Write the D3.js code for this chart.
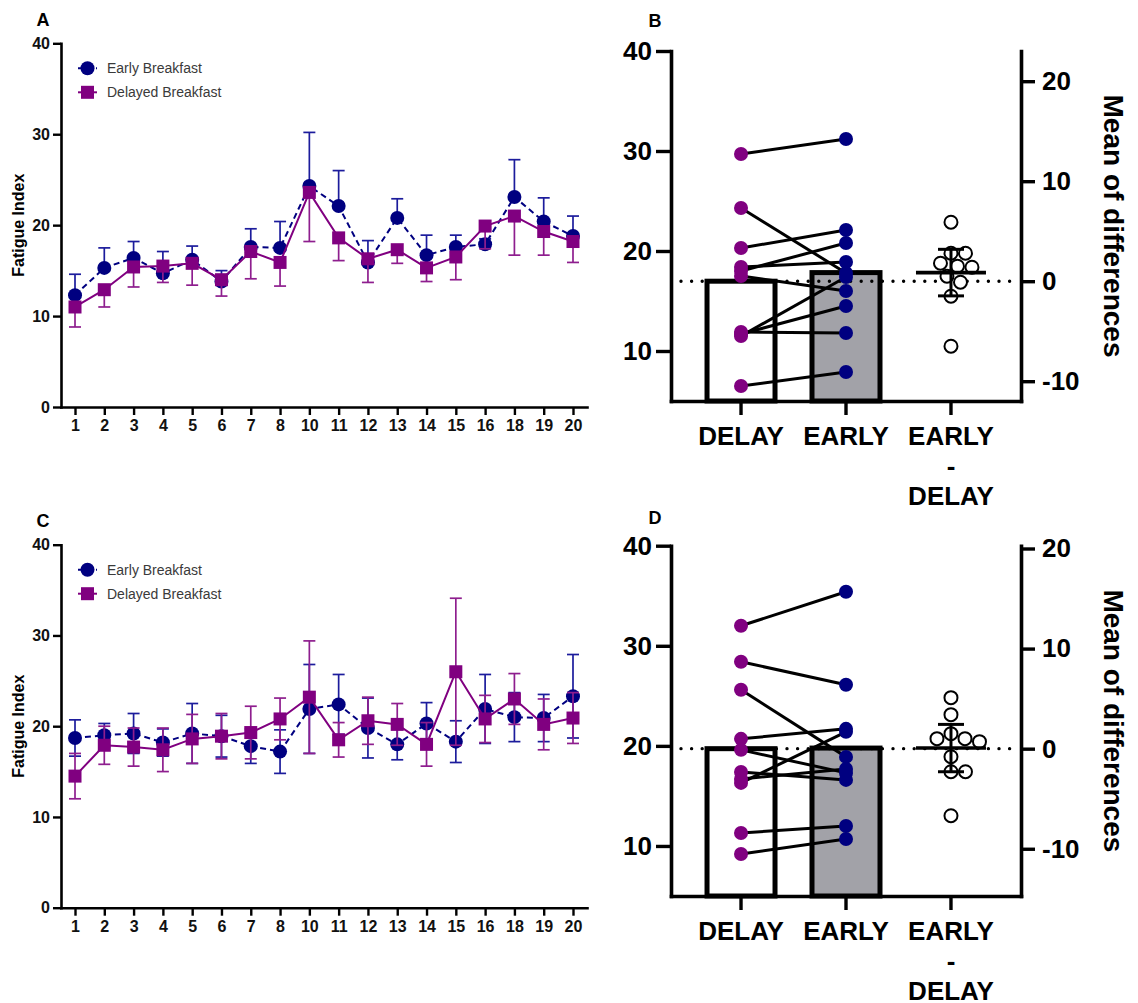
<!DOCTYPE html>
<html><head><meta charset="utf-8">
<script src="https://cdn.jsdelivr.net/npm/d3@7"></script>
<style>
body{margin:0;background:#fff}
svg{display:block}
text{font-family:"Liberation Sans",Arial,Helvetica,sans-serif}
</style>
</head><body>
<svg id="chart" width="1138" height="1003"></svg>
<script>
// ---------- DATA ----------
const days = ["1","2","3","4","5","6","7","8","10","11","12","13","14","15","16","18","19","20"];
const yTicksLine = [0, 10, 20, 30, 40];

// Panel A
const aEarly       = [12.3, 15.3, 16.4, 14.7, 16.2, 13.8, 17.6, 17.5, 24.3, 22.1, 15.9, 20.8, 16.7, 17.6, 17.9, 23.1, 20.4, 18.8];
const aEarlyErr    = [2.3, 2.2, 1.8, 2.4, 1.5, 1.2, 2.0, 2.9, 5.9, 3.9, 2.4, 2.1, 2.2, 1.3, 0.6, 4.1, 2.6, 2.2];
const aDelayed     = [11.0, 12.9, 15.4, 15.5, 15.8, 14.0, 17.1, 15.9, 23.6, 18.6, 16.3, 17.3, 15.3, 16.5, 19.9, 21.0, 19.3, 18.2];
const aDelayedErr  = [2.2, 1.9, 2.2, 1.8, 2.4, 1.8, 3.0, 2.6, 5.4, 2.5, 2.6, 1.5, 1.5, 2.5, 2.5, 4.3, 2.6, 2.3];

// Panel C
const cEarly       = [18.7, 19.0, 19.2, 18.2, 19.2, 18.9, 17.8, 17.2, 21.9, 22.4, 19.8, 18.0, 20.3, 18.3, 21.9, 21.0, 20.9, 23.3];
const cEarlyErr    = [2.0, 1.3, 2.2, 1.5, 3.3, 2.3, 1.9, 2.4, 4.9, 3.3, 3.3, 1.7, 2.3, 2.3, 3.8, 2.7, 2.6, 4.6];
const cDelayed     = [14.5, 17.9, 17.7, 17.4, 18.6, 18.9, 19.3, 20.8, 23.2, 18.5, 20.6, 20.2, 18.0, 26.0, 20.8, 23.0, 20.2, 20.9];
const cDelayedErr  = [2.5, 2.1, 2.1, 2.4, 2.7, 2.5, 2.9, 2.3, 6.2, 1.9, 2.6, 2.3, 2.4, 8.1, 2.6, 2.8, 2.8, 2.8];

const legendLabels = ["Early Breakfast", "Delayed Breakfast"];

// Panels B and D (paired subjects)
const pairCats   = ["DELAY", "EARLY", "EARLY-DELAY"];
const pairLabels = [["DELAY"], ["EARLY"], ["EARLY", "-", "DELAY"]];
const leftTicks  = [10, 20, 30, 40];
const rightTicks = [-10, 0, 10, 20];

const bDelay = [29.7, 24.3, 20.3, 18.4, 18.0, 17.5, 11.9, 11.7, 11.5, 6.5];
const bEarly = [31.2, 17.8, 22.1, 18.9, 20.8, 16.0, 11.8, 14.5, 17.4, 7.9];

const dDelay = [32.0, 28.4, 25.6, 20.7, 19.6, 17.4, 16.7, 16.3, 11.3, 9.2];
const dEarly = [35.4, 26.1, 18.9, 21.7, 17.3, 16.6, 17.7, 21.4, 12.0, 10.7];

// ---------- STYLE ----------
const EARLY_C = "#000080", EARLY_ERR_C = "#1c1c9c";
const DELAY_C = "#800080", DELAY_ERR_C = "#8e1e8e";
const svg = d3.select("#chart");
svg.append("rect").attr("width", 1138).attr("height", 1003).attr("fill", "#fff");

function panelLetter(t, x, y) {
  svg.append("text").attr("x", x).attr("y", y).attr("text-anchor", "middle")
    .attr("dominant-baseline", "central").attr("font-weight", "bold").attr("font-size", 18).text(t);
}

// ---------- LINE PANELS (A, C) ----------
function linePanel(cfg) {
  const g = svg.append("g");
  const x = d3.scalePoint().domain(days).range([61, 587]).padding(0.478);
  const y = d3.scaleLinear().domain([0, 40]).range([cfg.y0, cfg.y40]);

  const ya = g.append("g").attr("transform", "translate(61,0)")
    .call(d3.axisLeft(y).tickValues(yTicksLine).tickSize(8).tickSizeOuter(0).tickPadding(3));
  const xa = g.append("g").attr("transform", `translate(0,${cfg.y0})`)
    .call(d3.axisBottom(x).tickSize(8).tickSizeOuter(0).tickPadding(5));
  [ya, xa].forEach(a => {
    a.select(".domain").attr("stroke", "#000").attr("stroke-width", 2.6).attr("stroke-linecap", "square");
    a.selectAll(".tick line").attr("stroke", "#000").attr("stroke-width", 2.4);
    a.selectAll("text").attr("font-size", 16).attr("font-weight", "bold").attr("fill", "#111")
      .attr("font-family", '"Liberation Sans",Arial,sans-serif');
  });

  g.append("text").attr("transform", `translate(18,${(cfg.y0 + cfg.y40) / 2}) rotate(-90)`)
    .attr("text-anchor", "middle").attr("dominant-baseline", "central")
    .attr("font-weight", "bold").attr("font-size", 16).text("Fatigue Index");

  function errBars(vals, errs, color, dirUp, dirDown) {
    const eg = g.append("g").attr("stroke", color).attr("stroke-width", 1.7).attr("fill", "none");
    vals.forEach((v, i) => {
      const cx = x(days[i]);
      const top = dirUp ? v + errs[i] : v;
      const bot = dirDown ? v - errs[i] : v;
      eg.append("line").attr("x1", cx).attr("x2", cx).attr("y1", y(top)).attr("y2", y(bot));
      if (dirUp) eg.append("line").attr("x1", cx - 6).attr("x2", cx + 6).attr("y1", y(top)).attr("y2", y(top));
      if (dirDown) eg.append("line").attr("x1", cx - 6).attr("x2", cx + 6).attr("y1", y(bot)).attr("y2", y(bot));
    });
  }
  const line = d3.line().x((d, i) => x(days[i])).y(d => y(d));

  // Early series
  g.append("path").datum(cfg.early).attr("d", line).attr("fill", "none")
    .attr("stroke", EARLY_C).attr("stroke-width", 2).attr("stroke-dasharray", "6,4");
  errBars(cfg.early, cfg.earlyErr, EARLY_ERR_C, cfg.earlyUp, cfg.earlyDown);
  g.append("g").selectAll("circle").data(cfg.early).join("circle")
    .attr("cx", (d, i) => x(days[i])).attr("cy", d => y(d)).attr("r", 7).attr("fill", EARLY_C);

  // Delayed series
  g.append("path").datum(cfg.delayed).attr("d", line).attr("fill", "none")
    .attr("stroke", DELAY_C).attr("stroke-width", 2);
  errBars(cfg.delayed, cfg.delayedErr, DELAY_ERR_C, cfg.delayUp, cfg.delayDown);
  g.append("g").selectAll("rect").data(cfg.delayed).join("rect")
    .attr("x", (d, i) => x(days[i]) - 6.5).attr("y", d => y(d) - 6.5)
    .attr("width", 13).attr("height", 13).attr("fill", DELAY_C);

  // legend
  const ly = [cfg.y40 + 25, cfg.y40 + 49];
  const lg = g.append("g");
  lg.append("line").attr("x1", 78).attr("x2", 97).attr("y1", ly[0]).attr("y2", ly[0])
    .attr("stroke", EARLY_C).attr("stroke-width", 2).attr("stroke-dasharray", "4,2");
  lg.append("circle").attr("cx", 87.5).attr("cy", ly[0]).attr("r", 7).attr("fill", EARLY_C);
  lg.append("line").attr("x1", 78).attr("x2", 97).attr("y1", ly[1]).attr("y2", ly[1])
    .attr("stroke", DELAY_C).attr("stroke-width", 2);
  lg.append("rect").attr("x", 81).attr("y", ly[1] - 6.5).attr("width", 13).attr("height", 13).attr("fill", DELAY_C);
  legendLabels.forEach((t, i) => {
    lg.append("text").attr("x", 107).attr("y", ly[i]).attr("dominant-baseline", "central")
      .attr("font-size", 14).attr("fill", "#3a3a3a").text(t);
  });
}

// ---------- PAIRED PANELS (B, D) ----------
function swarmOffsets(vals, yfun, r) {
  const order = vals.map((v, i) => i).sort((a, b) => vals[b] - vals[a]);
  const placed = [], off = new Array(vals.length).fill(0);
  order.forEach(i => {
    const yy = yfun(vals[i]);
    for (let k = 0; k < 400; k++) {
      const cand = (k % 2 ? 1 : -1) * Math.ceil(k / 2) * 0.5;
      if (placed.every(p => Math.hypot(p.x - cand, p.y - yy) >= 2 * r + 1.5)) {
        off[i] = cand; placed.push({x: cand, y: yy}); break;
      }
    }
  });
  return off;
}

function pairedPanel(cfg) {
  const g = svg.append("g");
  const x = d3.scaleBand().domain(pairCats).range([671, 1021]).paddingInner(0).paddingOuter(0.167);
  const cx = c => x(c) + x.bandwidth() / 2;
  const y = d3.scaleLinear().domain([5, 40]).range([cfg.y5, cfg.y40]);
  const mD = d3.mean(cfg.delay), mE = d3.mean(cfg.early);
  const yR = d3.scaleLinear().domain([5 - mD, 40 - mD]).range([cfg.y5, cfg.y40]);
  const diffs = cfg.early.map((v, i) => v - cfg.delay[i]);
  const mDiff = d3.mean(diffs);
  const ci = 2.262 * d3.deviation(diffs) / Math.sqrt(diffs.length);
  const barW = 68;

  // bars
  [["DELAY", mD, "#ffffff"], ["EARLY", mE, "#a2a2a8"]].forEach(([c, m, f]) => {
    g.append("rect").attr("x", cx(c) - barW / 2).attr("y", y(m)).attr("width", barW)
      .attr("height", cfg.y5 - y(m)).attr("fill", f).attr("stroke", "#000").attr("stroke-width", 5);
  });

  // dotted reference line at DELAY mean (right-axis zero)
  g.append("line").attr("x1", 681).attr("x2", 1012).attr("y1", yR(0)).attr("y2", yR(0))
    .attr("stroke", "#000").attr("stroke-width", 3.4).attr("stroke-linecap", "round")
    .attr("stroke-dasharray", "0,10.6");

  // pair lines
  cfg.delay.forEach((v, i) => {
    g.append("line").attr("x1", cx("DELAY")).attr("y1", y(v)).attr("x2", cx("EARLY")).attr("y2", y(cfg.early[i]))
      .attr("stroke", "#000").attr("stroke-width", 3);
  });
  g.append("g").selectAll("circle").data(cfg.delay).join("circle")
    .attr("cx", cx("DELAY")).attr("cy", d => y(d)).attr("r", 7).attr("fill", DELAY_C);
  g.append("g").selectAll("circle").data(cfg.early).join("circle")
    .attr("cx", cx("EARLY")).attr("cy", d => y(d)).attr("r", 7).attr("fill", EARLY_C);

  // differences (beeswarm)
  const r = 6.5;
  const off = swarmOffsets(diffs, yR, r);
  g.append("g").selectAll("circle").data(diffs).join("circle")
    .attr("cx", (d, i) => cx("EARLY-DELAY") + off[i]).attr("cy", d => yR(d)).attr("r", r)
    .attr("fill", "#fff").attr("stroke", "#000").attr("stroke-width", 2);
  const c3 = cx("EARLY-DELAY");
  const eg = g.append("g").attr("stroke", "#000").attr("stroke-width", 3);
  eg.append("line").attr("x1", c3).attr("x2", c3).attr("y1", yR(mDiff + ci)).attr("y2", yR(mDiff - ci));
  eg.append("line").attr("x1", c3 - 13).attr("x2", c3 + 13).attr("y1", yR(mDiff + ci)).attr("y2", yR(mDiff + ci));
  eg.append("line").attr("x1", c3 - 13).attr("x2", c3 + 13).attr("y1", yR(mDiff - ci)).attr("y2", yR(mDiff - ci));
  eg.append("line").attr("x1", c3 - 35).attr("x2", c3 + 35).attr("y1", yR(mDiff)).attr("y2", yR(mDiff))
    .attr("stroke-width", 3.6);

  // axes
  const la = g.append("g").attr("transform", "translate(671,0)")
    .call(d3.axisLeft(y).tickValues(leftTicks).tickSize(15).tickSizeOuter(0).tickPadding(4));
  const ra = g.append("g").attr("transform", "translate(1021,0)")
    .call(d3.axisRight(yR).tickValues(rightTicks).tickSize(14).tickSizeOuter(0).tickPadding(7));
  const ba = g.append("g").attr("transform", `translate(0,${cfg.y5})`)
    .call(d3.axisBottom(x).tickSize(14).tickSizeOuter(0).tickFormat(""));
  [la, ra, ba].forEach(a => {
    a.select(".domain").attr("stroke", "#000").attr("stroke-width", 3.6).attr("stroke-linecap", "square");
    a.selectAll(".tick line").attr("stroke", "#000").attr("stroke-width", 3.4);
    a.selectAll("text").attr("font-size", 26).attr("font-weight", "bold").attr("fill", "#000")
      .attr("font-family", '"Liberation Sans",Arial,sans-serif');
  });
  ra.selectAll(".tick text").text(d => d);

  // category labels
  pairCats.forEach((c, i) => {
    const t = g.append("text").attr("text-anchor", "middle").attr("font-weight", "bold").attr("font-size", 26);
    pairLabels[i].forEach((s, j) => {
      t.append("tspan").attr("x", cx(c)).attr("y", cfg.y5 + 44 + j * 30).text(s);
    });
  });

  // right axis title
  g.append("text").attr("transform", `translate(1113,${(cfg.y5 + cfg.y40) / 2}) rotate(90)`)
    .attr("text-anchor", "middle").attr("dominant-baseline", "central")
    .attr("font-weight", "bold").attr("font-size", 28).text("Mean of differences");
}

linePanel({y0: 407, y40: 43.3, early: aEarly, earlyErr: aEarlyErr, delayed: aDelayed, delayedErr: aDelayedErr,
  earlyUp: true, earlyDown: false, delayUp: false, delayDown: true});
linePanel({y0: 907.7, y40: 544.7, early: cEarly, earlyErr: cEarlyErr, delayed: cDelayed, delayedErr: cDelayedErr,
  earlyUp: true, earlyDown: true, delayUp: true, delayDown: true});
pairedPanel({y5: 401, y40: 51, delay: bDelay, early: bEarly});
pairedPanel({y5: 896, y40: 545.7, delay: dDelay, early: dEarly});

panelLetter("A", 43, 20);
panelLetter("B", 655, 21);
panelLetter("C", 43, 521);
panelLetter("D", 655, 518);
</script>
</body></html>
